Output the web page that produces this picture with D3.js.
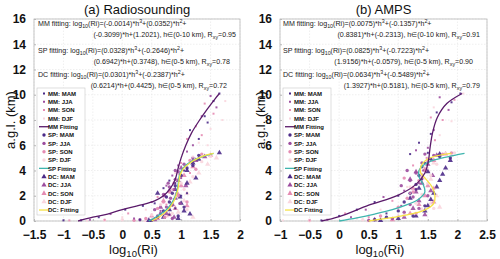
<!DOCTYPE html>
<html>
<head>
<meta charset="utf-8">
<script src="https://cdn.jsdelivr.net/npm/d3@7"></script>
<style>
body { margin: 0; background: #fff; }
text { font-family: "Liberation Sans", Arial, sans-serif; }
</style>
</head>
<body>
<script>
// ---- data: [log10(Ri), height km] ----
var seasons = ["MAM", "JJA", "SON", "DJF"];
var xTicksA = [-1.5, -1, -0.5, 0, 0.5, 1, 1.5, 2];
var xTicksB = [-1, -0.5, 0, 0.5, 1, 1.5, 2, 2.5];
var yTicks = [0, 2, 4, 6, 8, 10, 12, 14, 16];

// (a) radiosounding
var mmA = [
  [[-1.0,0.05],[-0.7,0.05],[-0.4,0.3],[0.05,0.9],[0.35,1.2],[0.55,1.4],[0.7,2.6],[0.8,3.2],[0.9,3.0],[1.05,4.0],[1.2,4.8],[1.3,6.5],[1.15,7.2],[1.45,7.8],[1.65,10.1],[1.55,9.5],[1.4,8.3],[1.0,2.0],[0.9,1.0],[1.1,2.2],[0.3,0.1],[0.8,0.5]],
  [[-0.55,0.1],[-0.2,0.55],[0.2,0.2],[0.5,1.5],[0.75,2.8],[0.85,3.6],[0.95,4.4],[1.2,6.0],[1.35,8.3],[1.5,9.9],[1.6,9.0],[1.1,5.5],[0.65,0.8],[0.92,2.2],[1.0,3.4],[0.85,1.2]],
  [[-0.9,0.05],[-0.3,0.1],[0.1,0.6],[0.6,1.9],[0.85,2.5],[1.0,4.6],[1.1,6.5],[1.25,7.5],[1.4,9.3],[1.55,8.5],[1.35,6.8],[0.75,1.3],[1.15,3.8]],
  [[-0.6,0.02],[0.0,0.3],[0.4,0.9],[0.9,3.8],[1.3,6.2],[1.5,7.3],[1.75,9.5],[1.7,8.0],[1.2,5.1],[0.95,2.7],[1.45,6.0]]
];
var spA = [
  [[0.6,0.3],[0.7,0.8],[0.8,1.5],[0.85,2.2],[0.9,2.8],[1.0,3.6],[1.1,4.2],[1.2,4.4],[0.95,0.4],[0.5,0.05],[0.75,1.9],[1.3,5.2],[1.05,1.1]],
  [[0.3,0.1],[0.65,0.6],[0.75,1.1],[0.82,1.8],[0.88,2.5],[0.9,3.3],[0.95,3.9],[1.05,4.5],[1.2,5.0],[0.7,2.1],[0.8,2.7],[0.55,0.9],[0.85,0.2],[0.98,1.4],[0.6,0.4],[0.78,3.0],[0.9,4.0]],
  [[0.4,0.2],[0.6,1.0],[0.7,1.5],[0.8,2.3],[0.88,3.0],[0.98,3.7],[1.15,4.8],[1.35,5.3],[0.95,2.0],[1.1,1.5],[0.72,0.3],[0.2,0.05],[1.25,4.1]],
  [[-0.3,0.05],[0.5,0.5],[0.65,1.3],[0.9,2.0],[1.0,3.0],[1.2,3.5],[1.35,4.7],[1.5,5.1],[1.1,0.9],[0.85,0.6],[0.0,0.1],[1.05,2.5]]
];
var dcA = [
  [[0.45,0.05],[0.7,0.3],[0.8,0.9],[0.95,0.2],[1.15,0.55],[1.0,1.4],[0.6,2.2],[0.9,2.5],[1.1,3.0],[1.1,4.0],[1.25,3.4],[1.65,5.4],[1.2,4.6],[1.3,4.9],[0.98,1.9],[1.05,0.8]],
  [[0.55,0.1],[0.75,0.6],[0.85,1.3],[0.9,1.8],[0.8,2.4],[0.95,3.2],[1.0,4.2],[1.25,4.8],[1.4,5.1],[0.65,1.1],[0.88,0.3],[1.08,2.8],[0.72,2.0]],
  [[0.6,0.2],[0.8,0.5],[0.9,1.0],[0.95,2.1],[1.0,2.8],[1.05,3.6],[1.2,4.3],[1.5,5.2],[0.7,1.6],[1.1,1.2],[0.5,0.4]],
  [[0.4,0.05],[0.75,0.4],[0.95,0.7],[1.05,1.6],[1.1,2.2],[1.15,3.1],[1.3,3.8],[1.45,4.5],[1.6,5.0],[0.85,1.4],[1.2,0.3]]
];
var mmFitA = [[-0.75,0],[-0.5,0.3],[-0.25,0.55],[0,0.9],[0.3,1.25],[0.55,1.6],[0.7,2.0],[0.82,2.6],[0.9,3.3],[0.95,4.2],[1.0,5.0],[1.08,6.0],[1.18,7.0],[1.3,7.9],[1.45,8.9],[1.58,9.7],[1.65,10.1]];
var spFitA = [[0.45,0],[0.6,0.4],[0.75,0.9],[0.85,1.5],[0.92,2.2],[0.95,3.0],[0.97,3.6],[1.02,4.1],[1.1,4.5],[1.25,4.9],[1.4,5.15],[1.55,5.35]];
var dcFitA = [[0.5,0],[0.65,0.4],[0.78,0.9],[0.88,1.6],[0.94,2.4],[0.96,3.0],[0.98,3.6],[1.04,4.15],[1.15,4.6],[1.3,5.0],[1.45,5.25],[1.55,5.35]];

// (b) AMPS
var mmB = [
  [[-0.3,0.05],[0.0,0.4],[0.3,0.9],[0.6,1.5],[1.0,2.0],[1.3,2.5],[1.4,3.3],[1.45,4.6],[1.5,5.4],[1.55,6.9],[1.65,8.6],[1.9,9.4],[2.05,10.1],[1.2,5.3],[1.35,6.2],[0.8,0.6]],
  [[-0.2,0.1],[0.2,0.3],[0.45,0.9],[0.75,1.9],[1.1,2.4],[1.35,3.0],[1.42,4.0],[1.5,5.8],[1.6,7.2],[1.7,9.8],[1.85,8.8],[1.3,5.6],[1.05,1.2]],
  [[-0.5,0.05],[0.1,0.6],[0.5,0.3],[0.9,1.6],[1.2,2.2],[1.4,3.7],[1.48,5.0],[1.62,6.4],[1.75,8.0],[1.95,9.6],[1.55,8.2],[1.25,4.4]],
  [[-0.95,0.05],[-0.5,0.1],[0.3,0.2],[0.7,0.9],[1.15,2.7],[1.5,4.2],[1.7,6.8],[1.9,7.9],[2.1,10.1],[1.8,5.4],[1.6,9.0]]
];
var spB = [
  [[0.8,0.3],[1.0,0.8],[1.1,1.5],[1.2,2.2],[1.3,2.9],[1.35,3.6],[1.4,4.3],[1.55,4.9],[1.7,5.1],[1.45,1.2],[0.6,0.1],[1.25,0.4],[1.88,5.0]],
  [[0.9,0.2],[1.1,0.7],[1.2,1.3],[1.25,1.9],[1.3,2.5],[1.2,3.2],[1.3,3.8],[1.4,4.6],[1.6,5.2],[1.05,2.8],[1.5,2.0],[1.15,4.0],[0.5,0.05],[1.35,1.0],[1.45,5.3]],
  [[0.7,0.4],[1.0,1.1],[1.15,1.8],[1.25,2.3],[1.35,3.2],[1.45,4.0],[1.5,4.7],[1.75,5.3],[1.3,0.6],[1.6,2.6],[1.1,3.4],[1.9,5.4]],
  [[-0.5,0.02],[0.4,0.1],[1.1,0.5],[1.3,1.4],[1.4,2.1],[1.5,3.0],[1.55,3.6],[1.65,4.5],[1.95,5.4],[1.2,2.7],[1.6,1.0]]
];
var dcB = [
  [[1.0,0.2],[1.3,0.4],[1.45,0.8],[1.5,1.2],[1.55,1.7],[1.6,2.2],[1.65,2.7],[1.7,3.2],[1.75,3.7],[1.8,4.2],[1.88,4.8],[1.2,1.8],[1.35,2.6],[1.5,3.9],[1.7,5.3],[0.7,0.05]],
  [[0.6,0.1],[1.1,0.3],[1.25,1.0],[1.35,1.6],[1.3,2.3],[1.4,3.0],[1.3,3.9],[1.5,4.5],[1.65,5.2],[1.55,2.4],[1.2,3.3],[1.45,0.5],[1.58,3.6]],
  [[0.9,0.1],[1.2,0.6],[1.35,1.3],[1.45,2.0],[1.5,2.8],[1.4,3.4],[1.45,4.1],[1.6,4.8],[1.8,5.3],[1.6,1.5],[1.25,2.6]],
  [[0.5,0.02],[1.0,0.4],[1.4,0.9],[1.55,1.4],[1.65,2.0],[1.6,2.6],[1.55,3.3],[1.5,4.0],[1.6,4.6],[1.9,5.2],[1.7,1.1]]
];
var mmFitB = [[-0.3,0],[0,0.35],[0.5,1.25],[1.0,2.05],[1.3,2.9],[1.45,3.8],[1.51,4.8],[1.54,5.9],[1.58,7.0],[1.66,8.2],[1.82,9.3],[2.08,10.1]];
var spFitB = [[0,0],[0.3,0.25],[0.6,0.55],[0.9,0.9],[1.15,1.3],[1.35,1.75],[1.45,2.3],[1.42,2.9],[1.35,3.5],[1.35,4.0],[1.42,4.4],[1.55,4.75],[1.75,5.0],[1.95,5.2],[2.12,5.35]];
var dcFitB = [[0.5,0],[0.8,0.2],[1.1,0.45],[1.35,0.7],[1.5,1.0],[1.6,1.4],[1.62,2.0],[1.57,2.7],[1.47,3.3],[1.38,3.8],[1.38,4.3],[1.46,4.8],[1.6,5.1],[1.9,5.35]];

var fitTextA = [
  "MM fitting: log_{10}(Ri)=(-0.0014)*h^3+(0.0352)*h^2+",
  "(-0.3099)*h+(1.2021), h∈(0-10 km), R_{xy}=0.95",
  "SP fitting: log_{10}(Ri)=(0.0328)*h^3+(-0.2646)*h^2+",
  "(0.6942)*h+(0.3748), h∈(0-5 km), R_{xy}=0.78",
  "DC fitting: log_{10}(Ri)=(0.0301)*h^3+(-0.2387)*h^2+",
  "(0.6214)*h+(0.4425), h∈(0-5 km), R_{xy}=0.72"
];
var fitTextB = [
  "MM fitting: log_{10}(Ri)=(0.0075)*h^3+(-0.1357)*h^2+",
  "(0.8381)*h+(-0.2313), h∈(0-10 km), R_{xy}=0.91",
  "SP fitting: log_{10}(Ri)=(0.0825)*h^3+(-0.7223)*h^2+",
  "(1.9156)*h+(-0.0579), h∈(0-5 km), R_{xy}=0.90",
  "DC fitting: log_{10}(Ri)=(0.0634)*h^3+(-0.5489)*h^2+",
  "(1.3927)*h+(0.5181), h∈(0-5 km), R_{xy}=0.79"
];

// colours
var seasonColor = ["#4b2a88", "#9c4c9e", "#e58bb2", "#f9d6de"];
var fitColor = { MM: "#5a1a6a", SP: "#3fb5ae", DC: "#f5e245" };

var W = 500, H = 259;
var svg = d3.select("body").append("svg").attr("width", W).attr("height", H);

var panels = [
  { title: "(a) Radiosounding", xr: [34, 240], dom: [-1.5, 2], xt: xTicksA, mm: mmA, sp: spA, dc: dcA,
    fits: { MM: mmFitA, SP: spFitA, DC: dcFitA }, txt: fitTextA, lastLab: "DC: Fitting",
    txtX: [38, 236, 38, 230, 38, 227], ylabX: 11 },
  { title: "(b) AMPS", xr: [280, 487], dom: [-1, 2.5], xt: xTicksB, mm: mmB, sp: spB, dc: dcB,
    fits: { MM: mmFitB, SP: spFitB, DC: dcFitB }, txt: fitTextB, lastLab: "DC Fitting",
    txtX: [283, 480, 283, 473, 283, 480], ylabX: 261 }
];
var txtY = [26, 37, 53, 63.5, 77, 88];

function richText(sel, str, fs) {
  var parts = str.split(/(\^\d|_\{\w+\})/);
  var shift = 0;
  parts.forEach(function(p) {
    if (!p) return;
    if (p[0] === "^") {
      sel.append("tspan").attr("dy", -3 - shift).attr("font-size", fs * 0.75).text(p.slice(1));
      shift = -3;
    } else if (p[0] === "_") {
      sel.append("tspan").attr("dy", 2 - shift).attr("font-size", fs * 0.75).text(p.slice(2, -1));
      shift = 2;
    } else {
      sel.append("tspan").attr("dy", -shift).text(p);
      shift = 0;
    }
  });
}

function markerPath(kind) {
  if (kind === "MM") return d3.symbol().type(d3.symbolSquare).size(4)();
  if (kind === "SP") return d3.symbol().type(d3.symbolCircle).size(9)();
  return d3.symbol().type(d3.symbolTriangle).size(12)();
}

panels.forEach(function(P) {
  var x = d3.scaleLinear().domain(P.dom).range(P.xr);
  var y = d3.scaleLinear().domain([0, 16]).range([221, 19]);
  var g = svg.append("g");

  // grid
  g.selectAll(".gx").data(P.xt).enter().append("line")
    .attr("x1", function(d) { return x(d); }).attr("x2", function(d) { return x(d); })
    .attr("y1", y(0)).attr("y2", y(16))
    .attr("stroke", "#e4e4e4").attr("stroke-width", 0.6).attr("stroke-dasharray", "1.5,1.5");
  g.selectAll(".gy").data(yTicks).enter().append("line")
    .attr("y1", function(d) { return y(d); }).attr("y2", function(d) { return y(d); })
    .attr("x1", P.xr[0]).attr("x2", P.xr[1])
    .attr("stroke", "#e4e4e4").attr("stroke-width", 0.6).attr("stroke-dasharray", "1.5,1.5");

  // frame
  g.append("rect").attr("x", P.xr[0]).attr("y", y(16))
    .attr("width", P.xr[1] - P.xr[0]).attr("height", y(0) - y(16))
    .attr("fill", "none").attr("stroke", "#b8b8b8").attr("stroke-width", 0.8);

  // axes
  var xa = g.append("g").attr("transform", "translate(0," + y(0) + ")")
    .call(d3.axisBottom(x).tickValues(P.xt).tickSize(-2).tickPadding(9).tickFormat(d3.format("")));
  var ya = g.append("g").attr("transform", "translate(" + P.xr[0] + ",0)")
    .call(d3.axisLeft(y).tickValues(yTicks).tickSize(-2).tickPadding(8));
  [xa, ya].forEach(function(a) {
    a.select(".domain").remove();
    a.selectAll("line").attr("stroke", "#b8b8b8");
    a.selectAll("text").attr("font-size", 12).attr("font-weight", "bold").attr("fill", "#111")
      .style("font-family", "Liberation Sans, Arial, sans-serif");
  });

  // scatter, drawn DJF first so darker seasons are on top
  [["DC", P.dc], ["SP", P.sp], ["MM", P.mm]].forEach(function(grp) {
    for (var s = 3; s >= 0; s--) {
      g.selectAll(null).data(grp[1][s]).enter().append("path")
        .attr("d", markerPath(grp[0]))
        .attr("transform", function(d) { return "translate(" + x(d[0]) + "," + y(d[1]) + ")"; })
        .attr("fill", seasonColor[s]).attr("opacity", 0.9);
    }
  });

  // fits
  var line = d3.line().x(function(d) { return x(d[0]); }).y(function(d) { return y(d[1]); }).curve(d3.curveCatmullRom);
  ["SP", "DC", "MM"].forEach(function(k) {
    g.append("path").datum(P.fits[k]).attr("d", line)
      .attr("fill", "none").attr("stroke", fitColor[k]).attr("stroke-width", 1.3);
  });

  // fit equations (odd lines left-aligned, continuation lines right-aligned)
  P.txt.forEach(function(t, i) {
    var tx = g.append("text").attr("x", P.txtX[i]).attr("y", txtY[i])
      .attr("text-anchor", i % 2 ? "end" : "start")
      .attr("font-size", 7.1).attr("fill", "#222");
    richText(tx, t, 7.1);
  });

  // legend
  var items = [];
  ["MM", "SP", "DC"].forEach(function(k) {
    seasons.forEach(function(s, i) { items.push({ kind: k, label: k + ": " + s, color: seasonColor[i] }); });
    items.push({ kind: "line", label: k === "DC" ? P.lastLab : k + " Fitting", color: fitColor[k] });
  });
  var lx = P.xr[0] + 3;
  var lg = g.append("g");
  lg.append("rect").attr("x", lx).attr("y", 88).attr("width", 48).attr("height", 127)
    .attr("fill", "#fff").attr("stroke", "#c8c8c8").attr("stroke-width", 0.6);
  items.forEach(function(it, i) {
    var iy = 93.4 + i * 8.33;
    if (it.kind === "line") {
      lg.append("line").attr("x1", lx + 2).attr("x2", lx + 12).attr("y1", iy).attr("y2", iy)
        .attr("stroke", it.color).attr("stroke-width", 1.3);
    } else {
      lg.append("path").attr("d", markerPath(it.kind))
        .attr("transform", "translate(" + (lx + 7) + "," + iy + ")").attr("fill", it.color);
    }
    lg.append("text").attr("x", lx + 11).attr("y", iy + 2.2).attr("font-size", 6)
      .attr("font-weight", "bold").attr("fill", "#111").text(it.label);
  });

  // titles and labels
  var cx = (P.xr[0] + P.xr[1]) / 2;
  g.append("text").attr("x", cx).attr("y", 14).attr("text-anchor", "middle")
    .attr("font-size", 13).attr("fill", "#111").text(P.title);
  var xl = g.append("text").attr("x", cx - 28).attr("y", 254).attr("font-size", 13).attr("fill", "#111");
  xl.append("tspan").text("log");
  xl.append("tspan").attr("dy", 3).attr("font-size", 9.5).text("10");
  xl.append("tspan").attr("dy", -3).text("(Ri)");
  g.append("text").attr("transform", "translate(" + (P.ylabX + 4) + "," + y(8) + ") rotate(-90)")
    .attr("text-anchor", "middle").attr("font-size", 13).attr("fill", "#111").text("a.g.l. (km)");
});
</script>
</body>
</html>
